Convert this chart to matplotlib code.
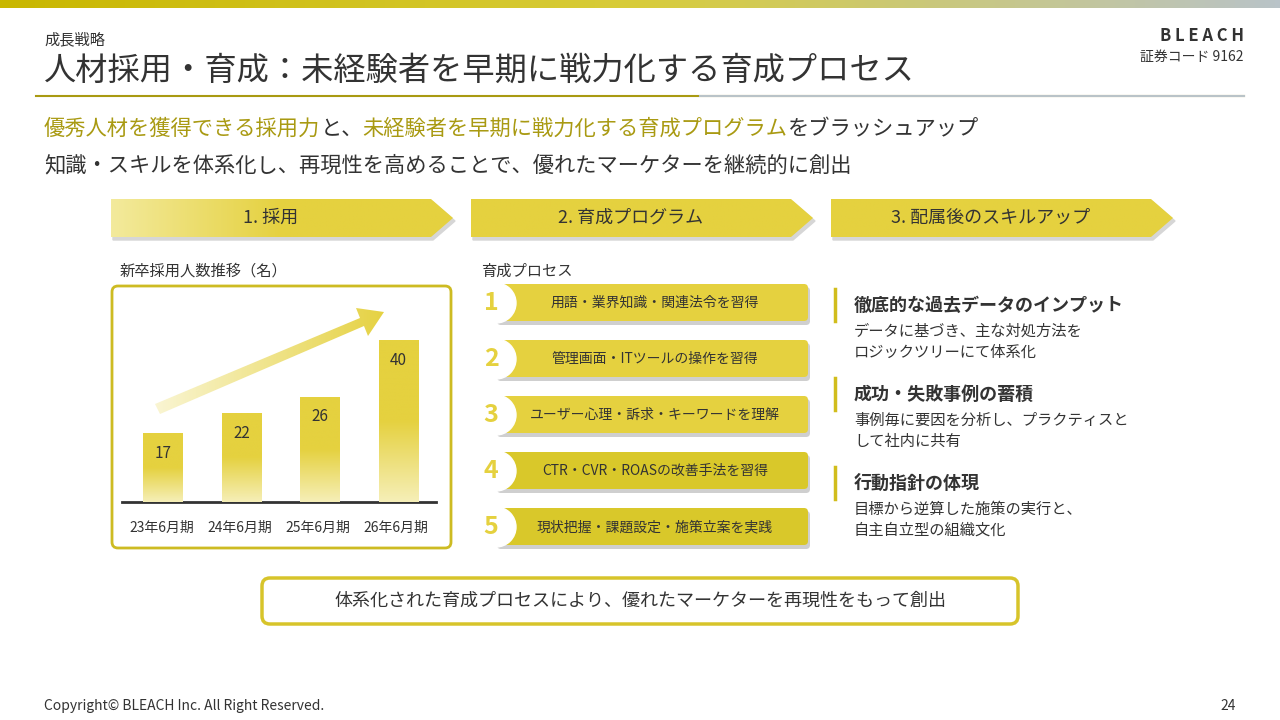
import matplotlib
matplotlib.use("Agg")
import matplotlib.pyplot as plt
import numpy as np
from matplotlib.patches import Polygon, FancyBboxPatch
from matplotlib.colors import LinearSegmentedColormap

plt.rcParams['font.family'] = ['Noto Sans CJK JP', 'DejaVu Sans']

periods = ["23年6月期", "24年6月期", "25年6月期", "26年6月期"]
hires = [17, 22, 26, 40]
steps = ["用語・業界知識・関連法令を習得", "管理画面・ITツールの操作を習得",
         "ユーザー心理・訴求・キーワードを理解", "CTR・CVR・ROASの改善手法を習得",
         "現状把握・課題設定・施策立案を実践"]
phases = ["1. 採用", "2. 育成プログラム", "3. 配属後のスキルアップ"]
points = [("徹底的な過去データのインプット", "データに基づき、主な対処方法を\nロジックツリーにて体系化"),
          ("成功・失敗事例の蓄積", "事例毎に要因を分析し、プラクティスと\nして社内に共有"),
          ("行動指針の体現", "目標から逆算した施策の実行と、\n自主自立型の組織文化")]

GOLD = "#e5d13f"
OLIVE = "#a99a12"
TXT = "#333333"

fig = plt.figure(figsize=(12.8, 7.2), dpi=100)
ax = fig.add_axes([0, 0, 1, 1])
ax.set_xlim(0, 1280); ax.set_ylim(720, 0); ax.axis('off')

grad = np.linspace(0, 1, 256).reshape(1, -1)
cm_top = LinearSegmentedColormap.from_list("t", ["#c9b700", "#d8cc3a", "#b9c3c8"])
ax.imshow(grad, cmap=cm_top, extent=[0, 1280, 8, 0], aspect='auto', zorder=1)

ax.text(44, 40, "成長戦略", fontsize=11, color=TXT, va='center')
ax.text(44, 71, "人材採用・育成：未経験者を早期に戦力化する育成プロセス", fontsize=23.2, color=TXT, va='center')
ax.plot([36, 1244], [96, 96], color=OLIVE, lw=1.5)
ax.plot([700, 1244], [96, 96], color="#b9c3c8", lw=1.5)
ax.text(1244, 36, "B L E A C H", fontsize=12, color=TXT, ha='right', va='center', fontweight='bold')
ax.text(1244, 57, "証券コード 9162", fontsize=10, color=TXT, ha='right', va='center')

fs = 15.3
cw = fs * 1.389
ax.text(44, 129, "優秀人材を獲得できる採用力", fontsize=fs, color=OLIVE, va='center')
ax.text(44 + cw*13, 129, "と、", fontsize=fs, color=TXT, va='center')
ax.text(44 + cw*15, 129, "未経験者を早期に戦力化する育成プログラム", fontsize=fs, color=OLIVE, va='center')
ax.text(44 + cw*35, 129, "をブラッシュアップ", fontsize=fs, color=TXT, va='center')
ax.text(44, 165, "知識・スキルを体系化し、再現性を高めることで、優れたマーケターを継続的に創出", fontsize=fs, color=TXT, va='center')

cm_ph = LinearSegmentedColormap.from_list("p", ["#f3ea9c", GOLD, GOLD])
cm_flat = LinearSegmentedColormap.from_list("q", [GOLD, GOLD])
for i, (x0, lab) in enumerate(zip([111, 471, 831], phases)):
    pts = [(x0, 199), (x0+320, 199), (x0+342, 218), (x0+320, 237), (x0, 237)]
    ax.add_patch(Polygon([(p[0]+2, p[1]+3) for p in pts], color="#d6d6d6", zorder=2))
    poly = Polygon(pts, closed=True, facecolor='none', edgecolor='none', zorder=3)
    ax.add_patch(poly)
    im = ax.imshow(grad, cmap=cm_ph if i == 0 else cm_flat,
                   extent=[x0, x0+342, 237, 199], aspect='auto', zorder=3)
    im.set_clip_path(poly)
    ax.text(x0+160, 218, lab, fontsize=13, color=TXT, ha='center', va='center', zorder=4)

ax.text(120, 271, "新卒採用人数推移（名）", fontsize=11, color=TXT, va='center')
ax.add_patch(FancyBboxPatch((112, 286), 339, 262, boxstyle="round,pad=0,rounding_size=6",
                            facecolor='white', edgecolor="#cdbb22", lw=2, zorder=2))
arr_pts = [(155, 404), (360, 318), (356, 308), (384, 312), (368, 336), (364, 326), (160, 414)]
arr = Polygon(arr_pts, facecolor='none', edgecolor='none', zorder=3)
ax.add_patch(arr)
cm_ar = LinearSegmentedColormap.from_list("a", ["#faf6d6", GOLD])
im = ax.imshow(grad, cmap=cm_ar, extent=[150, 390, 420, 300], aspect='auto', zorder=3)
im.set_clip_path(arr)
ax.plot([122, 436], [502, 502], color="#333333", lw=2, zorder=5)
for i, p in enumerate(periods):
    ax.text(162 + 78*i, 528, p, fontsize=10, color=TXT, ha='center', va='center')

bx = fig.add_axes([122/1280, (720-502)/720, 314/1280, 200/720])
bx.axis('off'); bx.patch.set_alpha(0)
xs = np.array([0.0, 1, 2, 3]) + 0.02
vgrad = np.linspace(0, 1, 256).reshape(-1, 1)
cm_bar = LinearSegmentedColormap.from_list("b", ["#f6efb8", GOLD, GOLD])
bars = bx.bar(xs, hires, width=0.5, color='none')
for b, v in zip(bars, hires):
    im = bx.imshow(vgrad, cmap=cm_bar, origin='lower', extent=[b.get_x(), b.get_x()+b.get_width(), 0, v],
                   aspect='auto', zorder=2)
    im.set_clip_path(b)
    bx.text(b.get_x()+b.get_width()/2, v - 5, str(v), ha='center', va='center', fontsize=11, color=TXT, zorder=3)
bx.set_xlim(-0.5, 3.5); bx.set_ylim(0, 200/4.05)

ax.text(481, 271, "育成プロセス", fontsize=11, color=TXT, va='center')
for i, s in enumerate(steps):
    yc = 303 + 56*i
    col = GOLD if i < 3 else "#d9c82a"
    ax.add_patch(FancyBboxPatch((497, yc-16), 313, 38, boxstyle="round,pad=0,rounding_size=4",
                                facecolor="#cfcfcf", edgecolor='none', zorder=2))
    ax.add_patch(FancyBboxPatch((494, yc-19), 314, 37, boxstyle="round,pad=0,rounding_size=4",
                                facecolor=col, edgecolor='none', zorder=3))
    ax.add_patch(plt.Circle((496, yc), 20, color='white', zorder=4))
    ax.text(491, yc, str(i+1), fontsize=18, color=GOLD, ha='center', va='center', fontweight='bold', zorder=5)
    ax.text(655, yc, s, fontsize=10, color=TXT, ha='center', va='center', zorder=5)

for i, (h, d) in enumerate(points):
    y0 = 305 + 89*i
    ax.plot([835, 835], [y0-16, y0+16], color="#d1bd1c", lw=2.5)
    ax.text(854, y0, h, fontsize=13, color=TXT, va='center', fontweight='bold')
    ax.text(854, y0+37, d, fontsize=11, color=TXT, va='center', linespacing=1.3)

ax.add_patch(FancyBboxPatch((262, 578), 756, 46, boxstyle="round,pad=0,rounding_size=8",
                            facecolor='white', edgecolor="#d7c42a", lw=2.5))
ax.text(640, 601, "体系化された育成プロセスにより、優れたマーケターを再現性をもって創出", fontsize=13,
        color=TXT, ha='center', va='center')

ax.text(44, 706, "Copyright© BLEACH Inc. All Right Reserved.", fontsize=10, color=TXT, va='center')
ax.text(1236, 706, "24", fontsize=10, color=TXT, va='center', ha='right')

fig.savefig("out.png", dpi=100)
